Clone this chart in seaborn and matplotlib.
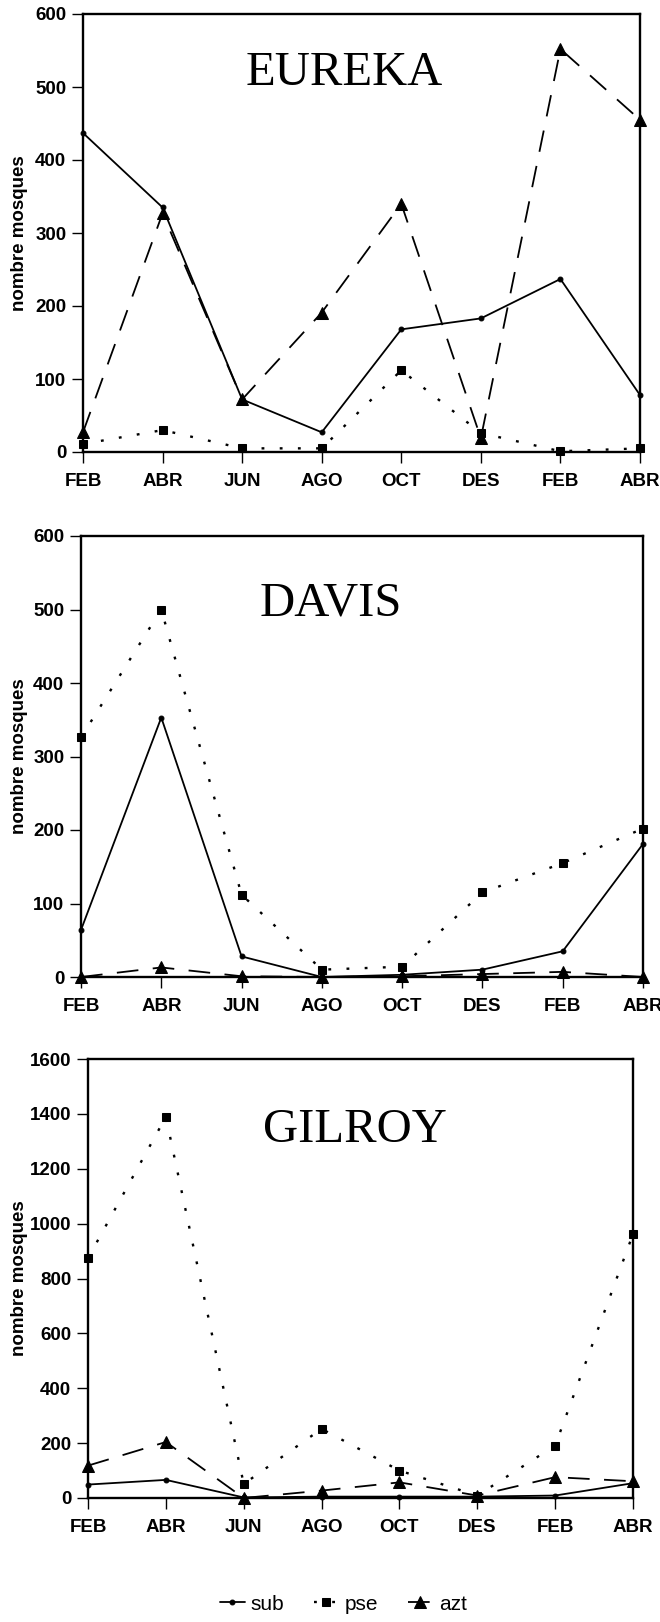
import matplotlib
matplotlib.use("Agg")
import matplotlib.pyplot as plt
import seaborn as sns
import numpy as np

months = ["FEB", "ABR", "JUN", "AGO", "OCT", "DES", "FEB", "ABR"]

eureka_sub = [437, 335, 72, 27, 168, 183, 237, 78]
eureka_pse = [11, 30, 5, 5, 112, 26, 1, 5]
eureka_azt = [27, 327, 72, 191, 340, 19, 552, 455]

davis_sub = [64, 353, 28, 0, 3, 10, 35, 181]
davis_pse = [326, 500, 112, 10, 14, 115, 155, 202]
davis_azt = [0, 13, 1, 0, 1, 4, 7, 0]

gilroy_sub = [49, 66, 2, 5, 5, 5, 9, 54]
gilroy_pse = [874, 1389, 51, 252, 100, 9, 191, 962]
gilroy_azt = [118, 204, 0, 27, 57, 9, 76, 61]

series_names = ["sub", "pse", "azt"]
site_names = ["EUREKA", "DAVIS", "GILROY"]

sns.set_style("ticks")
plt.rcParams["font.family"] = ["Liberation Sans", "DejaVu Sans"]
plt.rcParams["font.weight"] = "bold"
plt.rcParams["text.color"] = "black"
plt.rcParams["axes.labelcolor"] = "black"
plt.rcParams["xtick.color"] = "black"
plt.rcParams["ytick.color"] = "black"

W, H = 660, 1622
fig = plt.figure(figsize=(W / 100, H / 100), dpi=100)

# (left, right, top, bottom) in pixels
boxes = [(83, 640, 14, 452), (81, 643, 536, 977), (88, 633, 1059, 1498)]
title_pos = [(344, 85), (331, 615), (355, 1142)]
ymaxes = [600, 600, 1600]
ysteps = [100, 100, 200]
data = [
    (eureka_sub, eureka_pse, eureka_azt),
    (davis_sub, davis_pse, davis_azt),
    (gilroy_sub, gilroy_pse, gilroy_azt),
]

styles = {
    "sub": dict(linestyle="-", marker="o", markersize=3.5, linewidth=1.3),
    "pse": dict(linestyle=(0, (1.2, 6.5)), marker="s", markersize=6, linewidth=1.7),
    "azt": dict(linestyle=(0, (12, 8)), marker="^", markersize=9, linewidth=1.3),
}

x = np.arange(len(months))
axes = []
for i, (l, r, t, b) in enumerate(boxes):
    ax = fig.add_axes([l / W, 1 - b / H, (r - l) / W, (b - t) / H])
    axes.append(ax)
    for name, vals in zip(series_names, data[i]):
        st = styles[name]
        sns.lineplot(x=x, y=vals, ax=ax, color="black", label=name,
                     markeredgecolor="black", markerfacecolor="black",
                     clip_on=False, zorder=3, legend=False, **st)
    ax.set_xlim(0, len(months) - 1)
    ax.set_ylim(0, ymaxes[i])
    ax.set_yticks(np.arange(0, ymaxes[i] + 1, ysteps[i]))
    ax.set_xticks(x)
    ax.set_xticklabels(months)
    ax.tick_params(axis="both", direction="out", length=8, width=1.0,
                   labelsize=13.5, colors="black")
    ax.tick_params(axis="x", pad=7)
    ax.tick_params(axis="y", pad=4)
    for lab in ax.get_xticklabels() + ax.get_yticklabels():
        lab.set_fontweight("bold")
    for sp in ax.spines.values():
        sp.set_visible(True)
        sp.set_linewidth(1.7)
        sp.set_color("black")
    ax.set_xlabel("")
    ax.set_ylabel("")
    tx, ty = title_pos[i]
    fig.text(tx / W, 1 - ty / H, site_names[i], ha="center", va="baseline",
             fontsize=35, family=["Liberation Serif", "DejaVu Serif"],
             fontweight="normal", color="black")
    fig.text(20 / W, 1 - ((t + b) / 2) / H, "nombre mosques", rotation=90,
             ha="center", va="center", fontsize=13.5, fontweight="bold",
             color="black")

handles, labels = axes[2].get_legend_handles_labels()
fig.legend(handles, labels, loc="center", bbox_to_anchor=(0.52, 1 - 1604 / H),
           ncol=3, frameon=False, handlelength=1.2,
           handletextpad=0.3, columnspacing=1.4,
           prop={"family": ["Liberation Sans", "DejaVu Sans"], "size": 15,
                 "weight": "normal"})

fig.savefig("out.png", dpi=100)
